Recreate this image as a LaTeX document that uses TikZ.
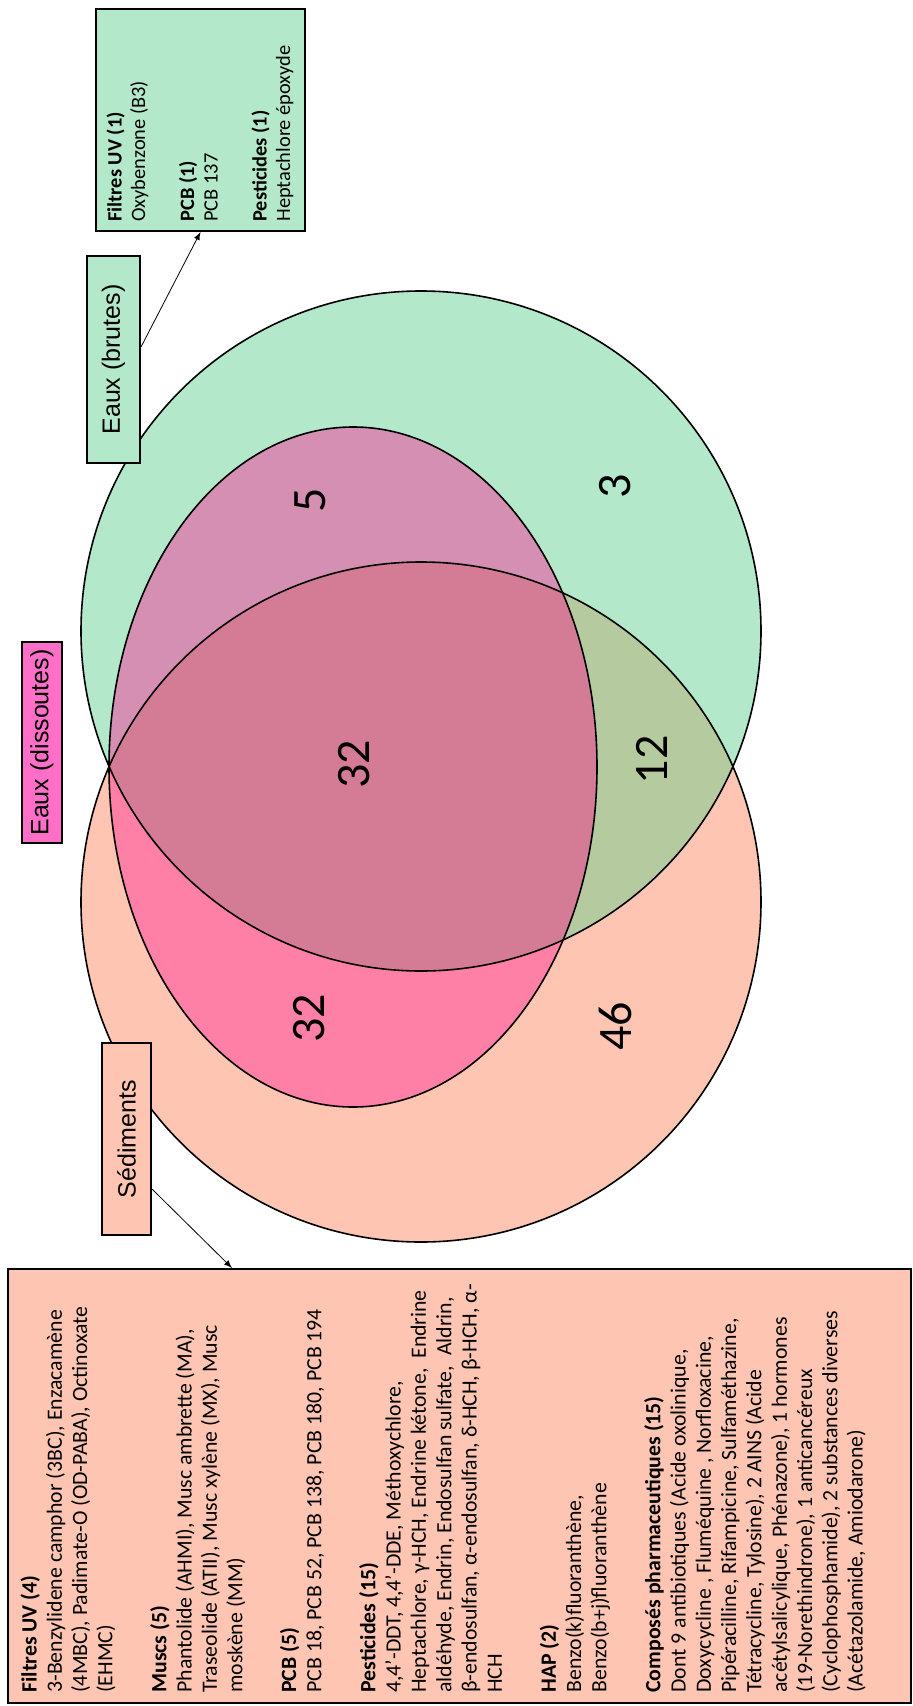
\documentclass[tikz,border=0pt]{standalone}
\usepackage{fontspec}
\setmainfont{Carlito}
\newfontfamily\arialfont{Liberation Sans}
\usepackage{tikz}
\usetikzlibrary{calc,arrows,positioning}
\definecolor{brutesgreen}{HTML}{B3E8CA}
\definecolor{sedsalmon}{HTML}{FEC6B2}
\definecolor{dispink}{HTML}{FF80A6}
\definecolor{dislabel}{HTML}{FF6FC8}
\definecolor{brudis}{HTML}{D48FB2}
\definecolor{brused}{HTML}{B5CA9F}
\definecolor{allthree}{HTML}{D47C96}
\tikzset{
	x=0.5pt, y=-0.5pt,
	setlabel/.style={
		draw, line width=1pt, rotate=90, inner sep=0pt,
		font=\arialfont\fontsize{12.5}{15}\selectfont
	},
	infobox/.style={draw, line width=1pt, inner sep=0pt},
	infotext/.style={
		rotate=90, anchor=north west, inner sep=0pt, align=left
	},
	count/.style={rotate=90, inner sep=0pt, font=\fontsize{24}{24}\selectfont},
	outline/.style={draw=black, line width=0.8pt},
	info_arrow/.style={-latex, thin}
}
\begin{document}
\begin{tikzpicture}
				\useasboundingbox (0,0) rectangle (912,1706);
				\coordinate (cbru) at (421,631);
				\coordinate (csed) at (421,902);
				\coordinate (cdis) at (353,767);
				% regions
				\fill[sedsalmon] (csed) circle[radius=170pt];
				\fill[brutesgreen] (cbru) circle[radius=170pt];
				\begin{scope}
					\clip (cbru) circle[radius=170pt];
					\fill[brused] (csed) circle[radius=170pt];
				\end{scope}
				\begin{scope}
					\clip (cdis) ellipse[x radius=122pt, y radius=170pt];
					\fill[dispink] (cdis) ellipse[x radius=122pt, y radius=170pt];
					\clip (cbru) circle[radius=170pt];
					\fill[brudis] (cdis) ellipse[x radius=122pt, y radius=170pt];
					\clip (csed) circle[radius=170pt];
					\fill[allthree] (cdis) ellipse[x radius=122pt, y radius=170pt];
				\end{scope}
				\path[outline] (csed) circle[radius=170pt];
				\path[outline] (cbru) circle[radius=170pt];
				\path[outline] (cdis) ellipse[x radius=122pt, y radius=170pt];
				% counts
				\node[count] (n5)  at (310,500)  {5};
				\node[count] (n3)  at (615,486)  {3};
				\node[count] (n32) at (354,764)  {32};
				\node[count] (n12) at (652,760)  {12};
				\node[count] (n32s) at (309,1018) {32};
				\node[count] (n46) at (615,1026) {46};
				% set labels
				\node[setlabel, fill=dislabel, minimum width=100.5pt, minimum height=20pt]
					(dis) at (42,742.5) {Eaux (dissoutes)};
				\node[setlabel, fill=brutesgreen, minimum width=103.5pt, minimum height=26.5pt]
					(bru) at (113.5,359.5) {Eaux (brutes)};
				\node[setlabel, fill=sedsalmon, minimum width=96pt, minimum height=24.5pt]
					(sed) at (126.5,1139) {Sédiments};
				% detail boxes
				\node[infobox, fill=brutesgreen, minimum width=104.5pt, minimum height=111pt]
					(grbox) at (200.5,120) {};
				\node[infotext, font=\fontsize{10.2}{11.75}\selectfont] (grtxt) at (106,222) {%
					\textbf{Filtres UV (1)}\\
					Oxybenzone (B3)\\[12.75pt]
					\textbf{PCB (1)}\\
					PCB 137\\[12.75pt]
					\textbf{Pesticides (1)}\\
					Heptachlore époxyde};
				\node[infobox, fill=sedsalmon, minimum width=451.5pt, minimum height=217pt]
					(sedbox) at (459.5,1486) {};
				\node[infotext, font=\fontsize{10.9}{12.65}\selectfont] (sedtxt) at (20,1693) {%
					\textbf{Filtres UV (4)}\\
					3-Benzylidene camphor (3BC), Enzacamène\\
					(4MBC), Padimate-O (OD-PABA), Octinoxate\\
					(EHMC)\\[14.3pt]
					\textbf{Muscs (5)}\\
					Phantolide (AHMI), Musc ambrette (MA),\\
					Traseolide (ATII), Musc xylène (MX), Musc\\
					moskène (MM)\\[14.3pt]
					\textbf{PCB (5)}\\
					PCB 18, PCB 52, PCB 138, PCB 180, PCB 194\\[14.3pt]
					\textbf{Pesticides (15)}\\
					4,4'-DDT, 4,4'-DDE, Méthoxychlore,\\
					Heptachlore, γ-HCH, Endrine kétone,\ \ Endrine\\
					aldéhyde, Endrin, Endosulfan sulfate,\ \ Aldrin,\\
					β-endosulfan, α-endosulfan, δ-HCH, β-HCH, α-\\
					HCH\\[14.3pt]
					\textbf{HAP (2)}\\
					Benzo(k)fluoranthène,\\
					Benzo(b+j)fluoranthène\\[14.3pt]
					\textbf{Composés pharmaceutiques (15)}\\
					Dont 9 antibiotiques (Acide oxolinique,\\
					Doxycycline , Fluméquine , Norfloxacine,\\
					Pipéracilline, Rifampicine, Sulfaméthazine,\\
					Tétracycline, Tylosine), 2 AINS (Acide\\
					acétylsalicylique, Phénazone), 1 hormones\\
					(19-Norethindrone), 1 anticancéreux\\
					(Cyclophosphamide), 2 substances diverses\\
					(Acétazolamide, Amiodarone)};
				% connectors
				\draw[info_arrow] ([yshift=6.25pt]bru.south) -- (grbox.south);
				\draw[info_arrow] ([yshift=-25pt]sed.south) -- ([xshift=-113.75pt]sedbox.north);
			\end{tikzpicture}
\end{document}
